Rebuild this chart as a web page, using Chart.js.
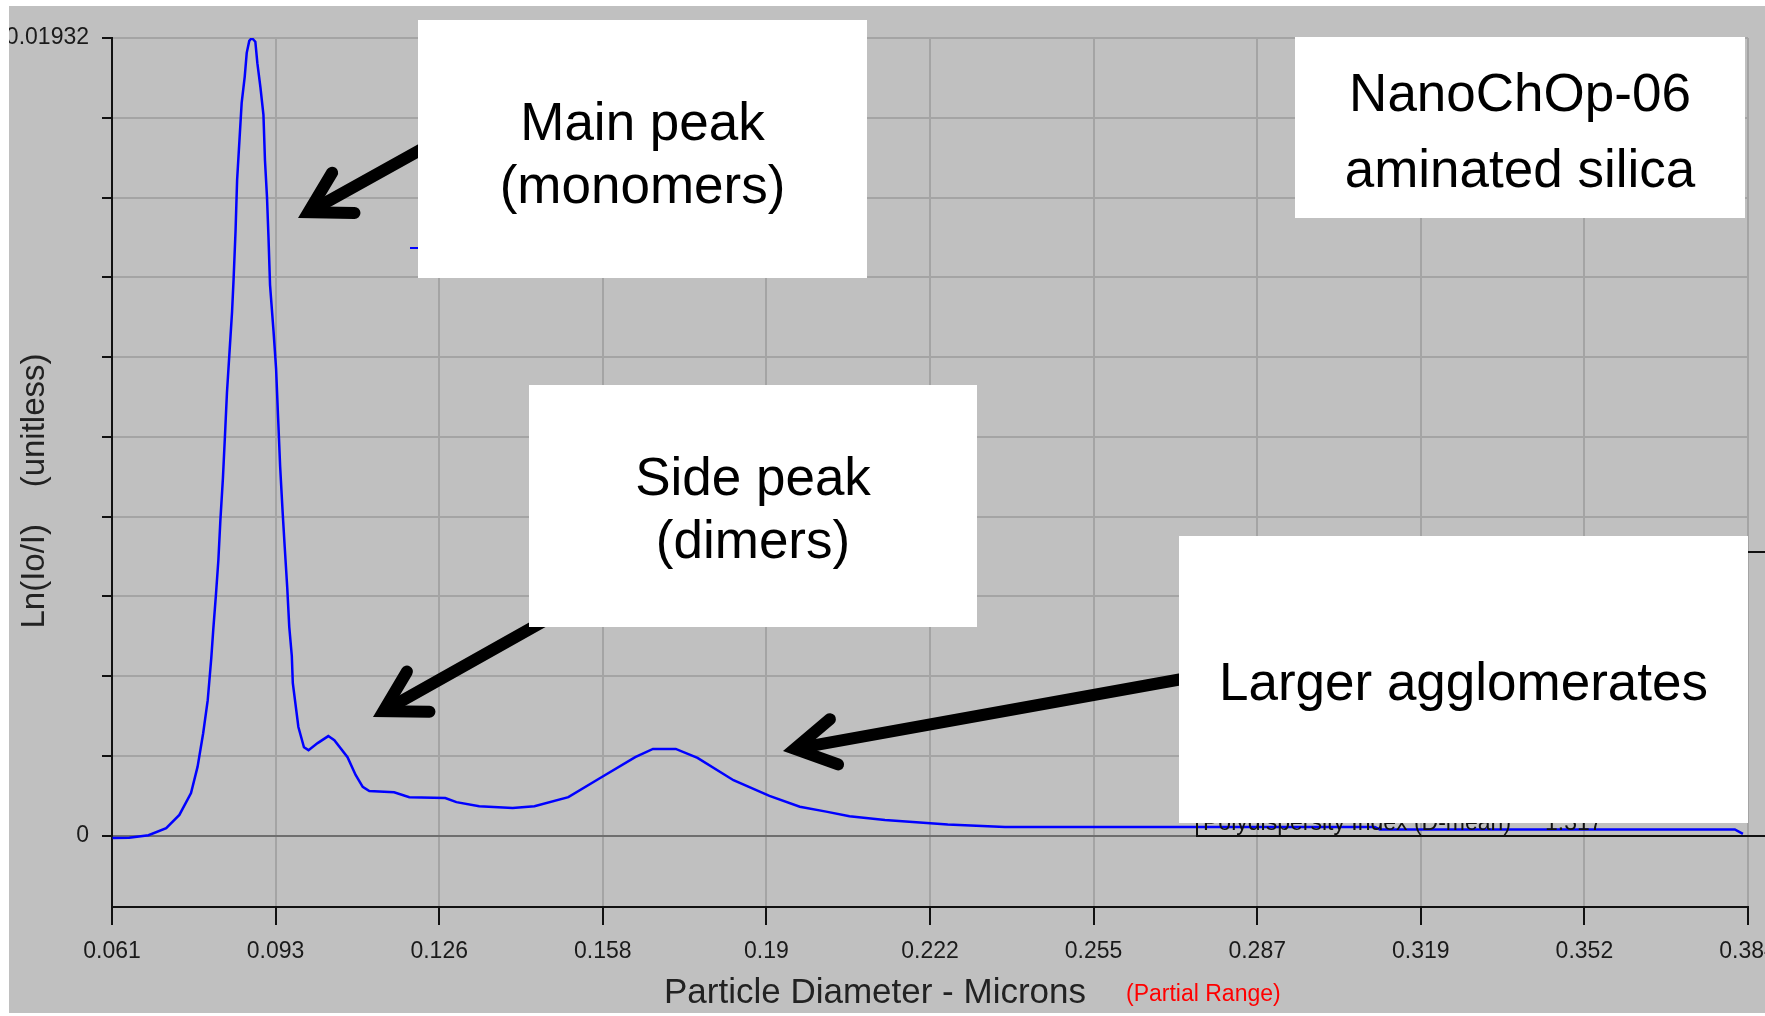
<!DOCTYPE html>
<html>
<head>
<meta charset="utf-8">
<title>NanoChOp-06 particle size distribution</title>
<script src="https://cdn.jsdelivr.net/npm/chart.js@4.4.1/dist/chart.umd.min.js"></script>
<style>
  html, body { margin: 0; padding: 0; background: #fff; }
  #wrap { position: absolute; left: 0; top: 0; width: 1765px; height: 1016px; }
</style>
</head>
<body>
<div id="wrap"><canvas id="sizeChart"></canvas></div>
<script>
// particle diameter (microns) and Ln(Io/I)
var diameters = [
  0.0611, 0.0644, 0.0682, 0.0717, 0.0743, 0.0766, 0.0779, 0.0790, 0.0799, 0.0806,
  0.0810, 0.0815, 0.0820, 0.0824, 0.0829, 0.0833, 0.0837, 0.0842, 0.0847, 0.0850,
  0.0854, 0.0857, 0.0862, 0.0866, 0.0872, 0.0876, 0.0881, 0.0886, 0.0893, 0.0897,
  0.0903, 0.0909, 0.0912, 0.0916, 0.0919, 0.0922, 0.0929, 0.0934, 0.0938, 0.0942,
  0.0947, 0.0951, 0.0956, 0.0960, 0.0965, 0.0967, 0.0978, 0.0989, 0.0998, 0.1016,
  0.1037, 0.1049, 0.1075, 0.1091, 0.1105, 0.1118, 0.1167, 0.1197, 0.1268, 0.1290,
  0.1335, 0.1401, 0.1444, 0.1511, 0.1573, 0.1643, 0.1678, 0.1723, 0.1766, 0.1837,
  0.1908, 0.1968, 0.2020, 0.2066, 0.2136, 0.2191, 0.2260, 0.2373, 0.2546, 0.2876,
  0.3103, 0.3113, 0.3814, 0.3830
];
var lnIoI = [
  -0.00006, -0.00005, 0.00001, 0.00018, 0.00050, 0.00103, 0.00167, 0.00248, 0.00328, 0.00430,
  0.00500, 0.00580, 0.00667, 0.00764, 0.00866, 0.00968, 0.01074, 0.01171, 0.01268, 0.01346,
  0.01467, 0.01588, 0.01692, 0.01775, 0.01838, 0.01896, 0.01925, 0.01932, 0.01923, 0.01871,
  0.01813, 0.01746, 0.01636, 0.01547, 0.01448, 0.01334, 0.01220, 0.01130, 0.01011, 0.00893,
  0.00781, 0.00699, 0.00600, 0.00505, 0.00435, 0.00369, 0.00263, 0.00214, 0.00207, 0.00224,
  0.00241, 0.00231, 0.00190, 0.00147, 0.00118, 0.00108, 0.00105, 0.00093, 0.00091, 0.00081,
  0.00071, 0.00067, 0.00071, 0.00093, 0.00139, 0.00190, 0.00210, 0.00210, 0.00188, 0.00134,
  0.00096, 0.00070, 0.00058, 0.00047, 0.00038, 0.00033, 0.00027, 0.00021, 0.00021, 0.00021,
  0.00021, 0.00015, 0.00015, 0.00004
];

var xTickLabels = ['0.061', '0.093', '0.126', '0.158', '0.19', '0.222', '0.255', '0.287', '0.319', '0.352', '0.384'];
var yTickLabels = ['0', '', '', '', '', '', '', '', '', '', '0.01932'];

var xMin = 0.061, xMax = 0.384;
var yMin = -0.00173, yMax = 0.01932;

var FONT = '"Liberation Sans", Arial, sans-serif';
Chart.defaults.font.family = FONT;

var points = diameters.map(function (d, i) { return { x: d, y: lnIoI[i] }; });

function drawArrow(ctx, x1, y1, x2, y2) {
  // x2,y2 is the outer point of the head; pull the stroke tip back so the miter lands there
  var back = Math.atan2(y1 - y2, x1 - x2);
  var spread = Math.PI / 6, lw = 12, head = 46;
  var tx = x2 + Math.cos(back) * (lw / 2) / Math.sin(spread);
  var ty = y2 + Math.sin(back) * (lw / 2) / Math.sin(spread);
  ctx.save();
  ctx.strokeStyle = '#000';
  ctx.lineWidth = lw;
  ctx.lineCap = 'round';
  ctx.lineJoin = 'miter';
  ctx.beginPath();
  ctx.moveTo(x1, y1);
  ctx.lineTo(tx + Math.cos(back) * 8, ty + Math.sin(back) * 8);
  ctx.stroke();
  ctx.beginPath();
  ctx.moveTo(tx + head * Math.cos(back - spread), ty + head * Math.sin(back - spread));
  ctx.lineTo(tx, ty);
  ctx.lineTo(tx + head * Math.cos(back + spread), ty + head * Math.sin(back + spread));
  ctx.stroke();
  ctx.restore();
}

function textBox(ctx, x, y, w, h, lines) {
  ctx.fillStyle = '#fff';
  ctx.fillRect(x, y, w, h);
  ctx.fillStyle = '#000';
  ctx.font = '53px ' + FONT;
  ctx.textAlign = 'center';
  ctx.textBaseline = 'alphabetic';
  lines.forEach(function (l) { ctx.fillText(l[0], x + w / 2, l[1]); });
}

var decor = {
  id: 'decor',
  beforeDraw: function (chart) {
    var ctx = chart.ctx;
    ctx.save();
    ctx.fillStyle = '#c0c0c0';
    ctx.fillRect(0, 0, chart.width, chart.height);
    ctx.restore();
  },
  afterDraw: function (chart) {
    var ctx = chart.ctx;
    ctx.save();

    // legend sample peeking out beside the first label
    ctx.strokeStyle = '#0000ff';
    ctx.lineWidth = 2;
    ctx.beginPath();
    ctx.moveTo(410, 248);
    ctx.lineTo(420, 248);
    ctx.stroke();

    // results panel in the lower right
    ctx.strokeStyle = '#111';
    ctx.lineWidth = 2;
    ctx.strokeRect(1197, 552, 700, 284);
    ctx.fillStyle = '#111';
    ctx.font = '23px ' + FONT;
    ctx.textAlign = 'left';
    ctx.textBaseline = 'alphabetic';
    ctx.fillText('Polydispersity Index (D-mean)', 1203, 830);
    ctx.fillText('1.317', 1545, 830);

    drawArrow(ctx, 440, 139, 298, 218);
    drawArrow(ctx, 560, 612, 373, 717);
    drawArrow(ctx, 1210, 674, 783, 751);

    textBox(ctx, 418, 20, 449, 258, [['Main peak', 140], ['(monomers)', 203]]);
    textBox(ctx, 1295, 37, 450, 181, [['NanoChOp-06', 111], ['aminated silica', 187]]);
    textBox(ctx, 529, 385, 448, 242, [['Side peak', 495], ['(dimers)', 558]]);
    textBox(ctx, 1179, 536, 569, 287, [['Larger agglomerates', 700]]);

    // axis titles
    ctx.fillStyle = '#222';
    ctx.textBaseline = 'middle';
    ctx.textAlign = 'center';
    ctx.font = '35px ' + FONT;
    ctx.fillText('Particle Diameter - Microns', 875, 993);
    ctx.fillStyle = '#ff0000';
    ctx.textAlign = 'left';
    ctx.font = '23px ' + FONT;
    ctx.fillText('(Partial Range)', 1126, 995);

    ctx.save();
    ctx.translate(35, 491);
    ctx.rotate(-Math.PI / 2);
    ctx.fillStyle = '#222';
    ctx.textAlign = 'center';
    ctx.font = '33px ' + FONT;
    ctx.fillText('Ln(Io/I)    (unitless)', 0, 0);
    ctx.restore();

    // white page margin around the plot panel
    ctx.fillStyle = '#fff';
    ctx.fillRect(0, 0, 9, chart.height);
    ctx.fillRect(0, 0, chart.width, 6);
    ctx.fillRect(0, 1013, chart.width, chart.height - 1013);
    ctx.restore();
  }
};

var ctx = document.getElementById('sizeChart').getContext('2d');
var sizeChart = new Chart(ctx, {
  type: 'line',
  data: {
    datasets: [{
      data: points,
      borderColor: '#0000ff',
      borderWidth: 2.5,
      pointRadius: 0,
      tension: 0,
      fill: false
    }]
  },
  options: {
    responsive: true,
    maintainAspectRatio: false,
    animation: false,
    layout: { padding: { top: 38, right: 17, left: 0, bottom: 0 } },
    plugins: { legend: { display: false }, tooltip: { enabled: false } },
    scales: {
      x: {
        type: 'linear',
        min: xMin,
        max: xMax,
        afterBuildTicks: function (s) {
          s.ticks = xTickLabels.map(function (l, i) {
            return { value: xMin + i * (xMax - xMin) / (xTickLabels.length - 1) };
          });
        },
        afterFit: function (s) { s.height = 109; s.paddingLeft = 0; s.paddingRight = 0; },
        ticks: {
          autoSkip: false,
          maxRotation: 0,
          padding: 13,
          color: '#1a1a1a',
          font: { size: 23 },
          callback: function (v, i) { return xTickLabels[i]; }
        },
        grid: { color: '#a4a4a4', lineWidth: 2, tickLength: 18, tickColor: '#111', tickWidth: 2 },
        border: { color: '#111', width: 2 }
      },
      y: {
        min: yMin,
        max: yMax,
        afterBuildTicks: function (s) {
          s.ticks = yTickLabels.map(function (l, i) {
            return { value: i * yMax / (yTickLabels.length - 1) };
          });
        },
        afterFit: function (s) { s.width = 112; s.paddingTop = 0; s.paddingBottom = 0; },
        ticks: {
          padding: 13,
          color: '#1a1a1a',
          font: { size: 23 },
          callback: function (v, i) { return yTickLabels[i]; }
        },
        grid: {
          color: function (c) { return c.tick && c.tick.value === 0 ? '#6e6e6e' : '#a4a4a4'; },
          lineWidth: 2,
          tickLength: 10,
          tickColor: '#111',
          tickWidth: 2
        },
        border: { color: '#111', width: 2 }
      }
    }
  },
  plugins: [decor]
});
</script>
</body>
</html>
